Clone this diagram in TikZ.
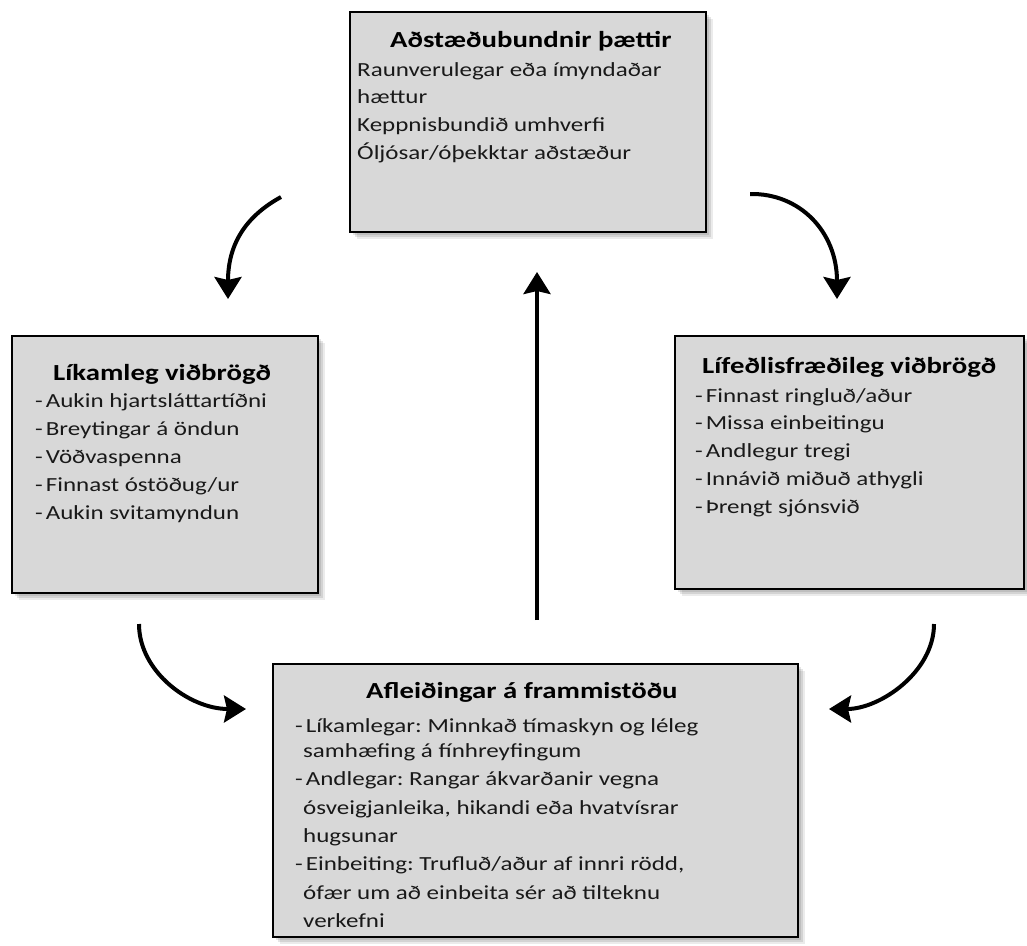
\documentclass[tikz,border=0pt]{standalone}
\usepackage{fontspec}
\setmainfont{Carlito}[FakeStretch=1.25]
\usetikzlibrary{arrows.meta}
\frenchspacing
\newcommand{\dsh}{-\kern3pt}
\definecolor{boxfill}{RGB}{216,216,216}
\definecolor{ink}{RGB}{25,25,25}
\tikzset{
  box/.style={draw=black, fill=boxfill, line width=2pt, inner sep=0pt,
    preaction={fill=black, opacity=0.10, transform canvas={shift={(3pt,-3pt)}}},
    preaction={fill=black, opacity=0.10, transform canvas={shift={(5pt,-5pt)}}},
    preaction={fill=black, opacity=0.08, transform canvas={shift={(7pt,-7pt)}}}},
  boxtitle/.style={anchor=base west, inner sep=0pt, font=\bfseries\fontsize{23}{28}\selectfont, text=black},
  body/.style={anchor=base west, inner sep=0pt, font=\fontsize{20}{28}\selectfont, text=ink},
  flow/.style={line width=4pt, -{Stealth[length=22pt, width=27pt, inset=3pt]}}
}
\begin{document}
\begin{tikzpicture}[x=1pt, y=-1pt]
\useasboundingbox (0,0) rectangle (1027,945);
% boxes
\node[box, minimum width=356pt, minimum height=220pt] (top) at (528,122) {};
\node[box, minimum width=306pt, minimum height=257pt] (left) at (165,464.5) {};
\node[box, minimum width=349pt, minimum height=253pt] (right) at (849.5,462.5) {};
\node[box, minimum width=525pt, minimum height=273pt] (bottom) at (535.5,800.5) {};
% top text
\node[boxtitle] (t0) at (390,47) {Aðstæðubundnir þættir};
\node[body] (t1) at (357,76) {Raunverulegar eða ímyndaðar};
\node[body] (t2) at (357,103) {hættur};
\node[body] (t3) at (357,131) {Keppnisbundið umhverfi};
\node[body] (t4) at (357,159) {Óljósar/óþekktar aðstæður};
% left text
\node[boxtitle] (l0) at (53,380) {Líkamleg viðbrögð};
\node[body] (l1) at (35,407) {\dsh Aukin hjartsláttartíðni};
\node[body] (l2) at (35,435) {\dsh Breytingar á öndun};
\node[body] (l3) at (35,463) {\dsh Vöðvaspenna};
\node[body] (l4) at (35,491) {\dsh Finnast óstöðug/ur};
\node[body] (l5) at (35,519) {\dsh Aukin svitamyndun};
% right text
\node[boxtitle] (r0) at (702,373) {Lífeðlisfræðileg viðbrögð};
\node[body] (r1) at (695,402) {\dsh Finnast ringluð/aður};
\node[body] (r2) at (695,429) {\dsh Missa einbeitingu};
\node[body] (r3) at (695,457) {\dsh Andlegur tregi};
\node[body] (r4) at (695,485) {\dsh Innávið miðuð athygli};
\node[body] (r5) at (695,513) {\dsh Þrengt sjónsvið};
% bottom text
\node[boxtitle] (b0) at (366,698) {Afleiðingar á frammistöðu};
\node[body] (b1) at (295,732) {\dsh Líkamlegar: Minnkað tímaskyn og léleg};
\node[body] (b2) at (303,757) {samhæfing á fínhreyfingum};
\node[body] (b3) at (295,785) {\dsh Andlegar: Rangar ákvarðanir vegna};
\node[body] (b4) at (303,814) {ósveigjanleika, hikandi eða hvatvísrar};
\node[body] (b5) at (303,842) {hugsunar};
\node[body] (b6) at (295,870) {\dsh Einbeiting: Trufluð/aður af innri rödd,};
\node[body] (b7) at (303,899) {ófær um að einbeita sér að tilteknu};
\node[body] (b8) at (303,927) {verkefni};
% arrow end points
\coordinate (a1s) at (281,197);
\coordinate (a1e) at (228,299);
\coordinate (a2s) at (750,194);
\coordinate (a2e) at (837,299);
\coordinate (a3s) at (139,624);
\coordinate (a3e) at (246,709);
\coordinate (a4s) at (934,624);
\coordinate (a4e) at (829,709);
\coordinate (a5s) at (537,620);
\coordinate (a5e) at (537,272);
% arrows
\draw[flow] (a1s) .. controls (250,214) and (228,240) .. (a1e);
\draw[flow] (a2s) .. controls (800,193) and (837,232) .. (a2e);
\draw[flow] (a3s) .. controls (139,672) and (190,709) .. (a3e);
\draw[flow] (a4s) .. controls (934,672) and (880,709) .. (a4e);
\draw[flow] (a5s) -- (a5e);
\end{tikzpicture}
\end{document}
